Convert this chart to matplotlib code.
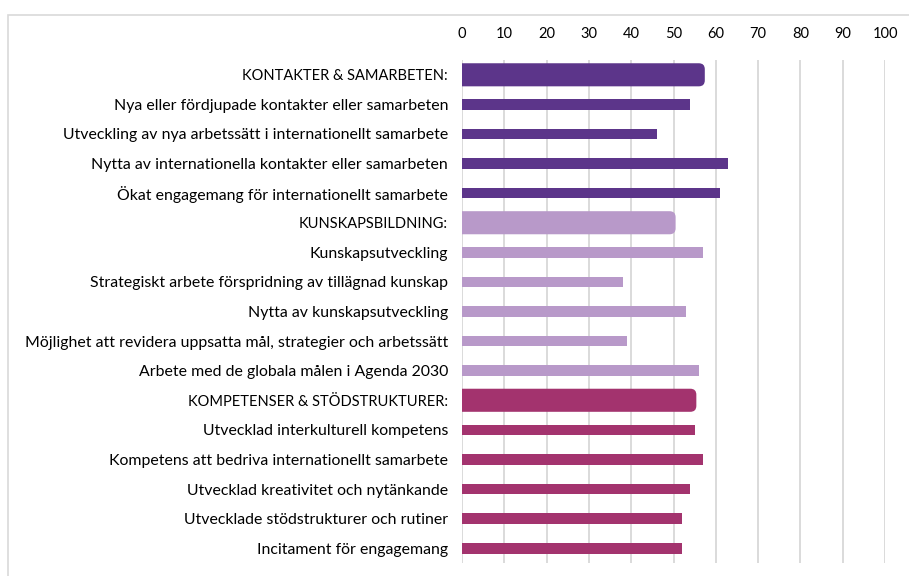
import matplotlib
matplotlib.use("Agg")
import matplotlib.pyplot as plt
from matplotlib.patches import FancyBboxPatch, Rectangle

plt.rcParams["font.family"] = ["Lato", "DejaVu Sans"]

labels = [
    "KONTAKTER & SAMARBETEN:",
    "Nya eller fördjupade kontakter eller samarbeten",
    "Utveckling av nya arbetssätt i internationellt samarbete",
    "Nytta av internationella kontakter eller samarbeten",
    "Ökat engagemang för internationellt samarbete",
    "KUNSKAPSBILDNING:",
    "Kunskapsutveckling",
    "Strategiskt arbete förspridning av tillägnad kunskap",
    "Nytta av kunskapsutveckling",
    "Möjlighet att revidera uppsatta mål, strategier och arbetssätt",
    "Arbete med de globala målen i Agenda 2030",
    "KOMPETENSER & STÖDSTRUKTURER:",
    "Utvecklad interkulturell kompetens",
    "Kompetens att bedriva internationellt samarbete",
    "Utvecklad kreativitet och nytänkande",
    "Utvecklade stödstrukturer och rutiner",
    "Incitament för engagemang",
]
values = [57.4, 54, 46, 63, 61, 50.5, 57, 38, 53, 39, 56, 55.4, 55, 57, 54, 52, 52]
groups = [0, 0, 0, 0, 0, 1, 1, 1, 1, 1, 1, 2, 2, 2, 2, 2, 2]
is_header = [True, False, False, False, False, True, False, False, False, False, False,
             True, False, False, False, False, False]
group_colors = ["#5c358a", "#b899c9", "#a3336e"]

W, H = 909, 576
fig = plt.figure(figsize=(W / 100, H / 100), dpi=100)
fig.patch.set_facecolor("white")

# outer frame (cut at right/bottom)
fig.patches.append(Rectangle((8 / W, -0.05), 1.2, 1 - 15 / H + 0.05, transform=fig.transFigure,
                             facecolor="none", edgecolor="#d9d9d9", linewidth=1.2))

ax = fig.add_axes([462 / W, 1 - 563 / H, 423 / W, 503 / H])
n = len(labels)
ax.set_xlim(0, 100)
ax.set_ylim(n - 0.5, -0.5)

px_x = 423 / 100
px_y = 503 / n
r = 6
for i, (v, g, hdr) in enumerate(zip(values, groups, is_header)):
    c = group_colors[g]
    if hdr:
        # rounded header bar; starts left of 0 and gets clipped so the left end is square
        h = 0.78
        rx = r / px_x
        ry = r / px_y
        start = -3
        p = FancyBboxPatch((start, i - h / 2), v - start, h,
                           boxstyle=f"round,pad=0,rounding_size={rx}",
                           mutation_aspect=ry / rx, facecolor=c, edgecolor="none", zorder=3)
        ax.add_patch(p)
    else:
        ax.barh(i, v, height=0.36, color=c, zorder=3)

ax.set_xticks(range(0, 101, 10))
ax.xaxis.tick_top()
ax.set_yticks(range(n))
ax.set_yticklabels(labels)
ax.tick_params(axis="both", length=0, colors="#000000")
ax.tick_params(axis="y", pad=10)
ax.tick_params(axis="x", pad=14, labelsize=10.5)
for lbl, hdr in zip(ax.get_yticklabels(), is_header):
    lbl.set_fontsize(10.5 if hdr else 11.4)
ax.grid(True, axis="x", color="#dadada", linewidth=1.4, zorder=0)
ax.set_axisbelow(True)
for s in ax.spines.values():
    s.set_visible(False)

fig.savefig("out.png", dpi=100, facecolor="white")
